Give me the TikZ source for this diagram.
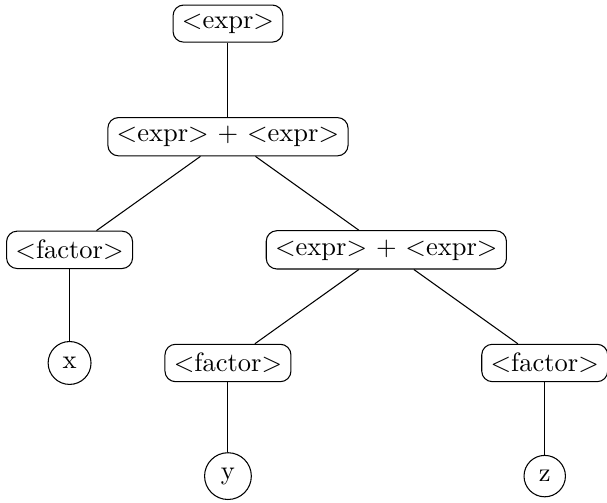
\documentclass[tikz,border=0pt]{standalone}
\usepackage{amsmath,amssymb}
\usepackage{tikz}

\begin{document}
\begin{tikzpicture}[node distance=1.5cm,
  nonterm/.style={draw, rounded corners},
  term/.style={draw, circle}]
\useasboundingbox (-86pt,-180.6pt) rectangle (143pt,8.9pt);
\node[nonterm] (expr) at (0,0) {$<$expr$>$};
\node[nonterm, below of=expr] (sum) {$<$expr$>$ + $<$expr$>$};
\draw (expr) -- (sum);
\node[nonterm, below of=sum, xshift=-2.1cm] (factorX) {$<$factor$>$};
\draw (sum) -- (factorX);
\node[nonterm, below of=sum, xshift=2.1cm] (sumYZ) {$<$expr$>$ + $<$expr$>$};
\draw (sum) -- (sumYZ);
\node[term, below of=factorX] (x) {x};
\draw (factorX) -- (x);
\node[nonterm, below of=sumYZ, xshift=-2.1cm] (factorY) {$<$factor$>$};
\draw (sumYZ) -- (factorY);
\node[nonterm, below of=sumYZ, xshift=2.1cm] (factorZ) {$<$factor$>$};
\draw (sumYZ) -- (factorZ);
\node[term, below of=factorY] (y) {y};
\draw (factorY) -- (y);
\node[term, below of=factorZ] (z) {z};
\draw (factorZ) -- (z);
\end{tikzpicture}
\end{document}
